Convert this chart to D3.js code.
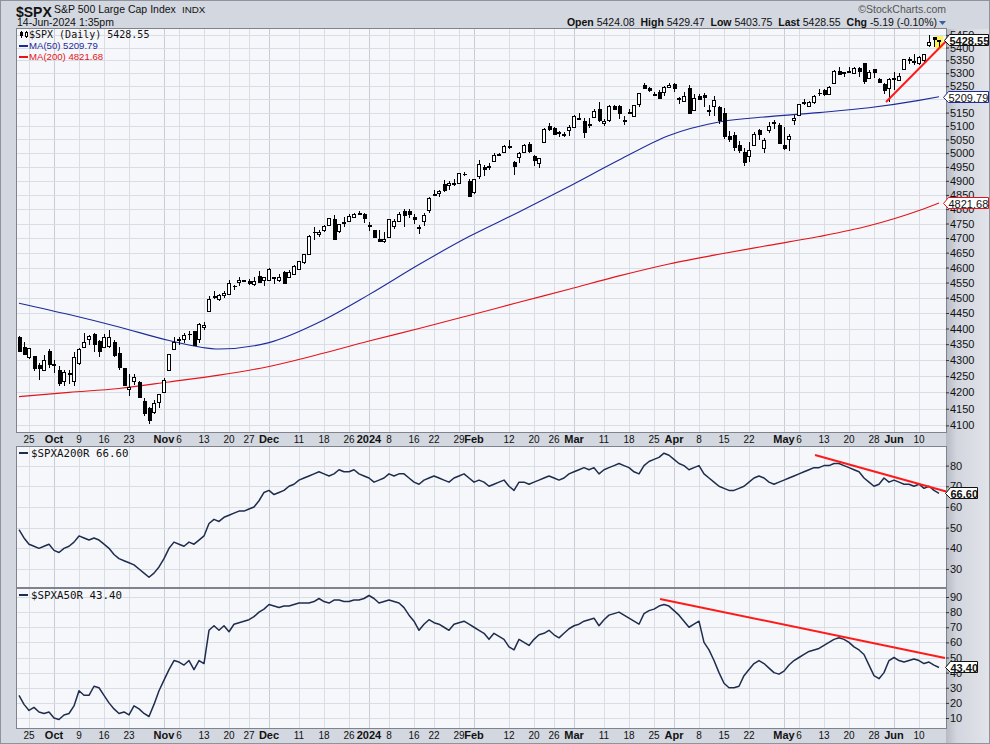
<!DOCTYPE html>
<html><head><meta charset="utf-8">
<script src="https://cdn.jsdelivr.net/npm/d3@7"></script>
<style>
body{margin:0;background:#d3d7df;}
svg{display:block;}
</style></head><body><svg id="c" width="990" height="744"></svg>
<script>
// ---------- DATA ----------
const tradingDays = [
 ["2023-09",[21,22,25,26,27,28,29]],
 ["2023-10",[2,3,4,5,6,9,10,11,12,13,16,17,18,19,20,23,24,25,26,27,30,31]],
 ["2023-11",[1,2,3,6,7,8,9,10,13,14,15,16,17,20,21,22,24,27,28,29,30]],
 ["2023-12",[1,4,5,6,7,8,11,12,13,14,15,18,19,20,21,22,26,27,28,29]],
 ["2024-01",[2,3,4,5,8,9,10,11,12,16,17,18,19,22,23,24,25,26,29,30,31]],
 ["2024-02",[1,2,5,6,7,8,9,12,13,14,15,16,20,21,22,23,26,27,28,29]],
 ["2024-03",[1,4,5,6,7,8,11,12,13,14,15,18,19,20,21,22,25,26,27,28]],
 ["2024-04",[1,2,3,4,5,8,9,10,11,12,15,16,17,18,19,22,23,24,25,26,29,30]],
 ["2024-05",[1,2,3,6,7,8,9,10,13,14,15,16,17,20,21,22,23,24,28,29,30,31]],
 ["2024-06",[3,4,5,6,7,10,11,12,13,14]]
];
const open = [4374,4342,4311,4313,4283,4270,4328,
4284,4270,4234,4260,4234,4290,4340,4367,4381,4360,4342,4345,4357,4322,4274,4210,4235,4233,4175,4152,4140,4172,
4201,4269,4334,4364,4366,4384,4391,4365,4406,4458,4505,4497,4509,4512,4539,4553,4555,4555,4546,4572,4558,
4560,4565,4557,4586,4568,4577,4594,4619,4646,4721,4714,4726,4744,4764,4724,4753,4758,4773,4787,4783,
4745,4726,4698,4690,4703,4742,4760,4792,4792,4772,4739,4760,4797,4853,4856,4888,4886,4888,4892,4926,4900,
4861,4916,4950,4951,4973,4996,5004,5026,4968,4987,5004,5032,4990,4964,5039,5101,5093,5074,5067,5085,
5098,5131,5120,5109,5132,5164,5112,5124,5174,5175,5123,5154,5139,5182,5254,5243,5219,5228,5226,5248,
5258,5204,5194,5244,5158,5211,5217,5157,5173,5172,5150,5064,5068,5031,5005,4988,5028,5084,5019,5085,5114,5103,
5029,5050,5122,5142,5188,5173,5190,5225,5234,5222,5264,5310,5303,5305,5299,5320,5340,5281,5315,5278,5260,5244,
5278,5275,5315,5357,5343,5341,5353,5410,5441,5424.08];
const high = [4375,4357,4338,4313,4292,4317,4334,
4300,4281,4268,4268,4324,4337,4386,4379,4385,4362,4383,4394,4364,4340,4276,4256,4255,4236,4184,4156,4178,4194,
4245,4320,4374,4372,4386,4392,4393,4418,4421,4505,4521,4511,4521,4557,4542,4569,4560,4561,4568,4587,4569,
4599,4570,4578,4590,4591,4610,4623,4644,4709,4738,4726,4746,4769,4779,4749,4773,4784,4785,4793,4788,
4755,4729,4726,4721,4764,4765,4790,4799,4802,4782,4744,4785,4842,4868,4866,4903,4899,4907,4929,4932,4907,
4906,4975,4958,4964,5000,5001,5030,5048,4971,5003,5033,5039,4993,4984,5094,5111,5097,5081,5077,5104,
5140,5149,5128,5128,5165,5190,5125,5180,5180,5180,5137,5165,5180,5225,5261,5246,5229,5236,5250,5264,
5263,5209,5228,5256,5222,5219,5224,5178,5211,5175,5168,5080,5077,5046,5019,5039,5076,5089,5057,5114,5124,5110,
5096,5069,5140,5181,5200,5192,5215,5240,5238,5251,5311,5325,5306,5325,5324,5325,5341,5312,5316,5283,5263,5281,
5303,5299,5354,5362,5376,5366,5376,5448,5442,5429.47];
const low = [4329,4317,4302,4265,4239,4265,4274,
4260,4220,4220,4226,4220,4284,4340,4346,4325,4311,4342,4339,4311,4269,4223,4190,4224,4184,4128,4103,4133,4153,
4197,4269,4334,4347,4355,4363,4343,4354,4394,4458,4496,4488,4500,4511,4526,4538,4553,4541,4540,4547,4537,
4554,4546,4552,4546,4566,4574,4593,4611,4643,4694,4702,4722,4744,4697,4717,4737,4758,4768,4780,4751,
4723,4700,4687,4683,4699,4730,4757,4739,4769,4747,4714,4740,4785,4845,4844,4862,4867,4882,4888,4917,4845,
4853,4907,4919,4939,4969,4988,4999,5016,4920,4964,4999,4999,4955,4946,5039,5081,5068,5058,5058,5061,
5094,5127,5057,5091,5128,5114,5099,5116,5160,5125,5105,5145,5139,5171,5240,5229,5216,5203,5214,5246,
5229,5184,5194,5146,5157,5197,5170,5138,5138,5107,5052,5040,5008,4999,4953,4969,5028,5048,5002,5073,5089,5035,
5013,5007,5102,5142,5178,5172,5183,5211,5211,5220,5264,5297,5284,5299,5297,5284,5257,5278,5280,5263,5222,5191,
5234,5270,5311,5336,5331,5331,5336,5402,5404,5403.75];
const close = [4330,4320,4337,4274,4275,4300,4288,
4288,4229,4264,4258,4309,4336,4358,4377,4350,4328,4374,4373,4315,4278,4224,4217,4248,4187,4137,4117,4167,4194,
4238,4318,4358,4366,4378,4383,4347,4415,4412,4496,4503,4508,4514,4547,4538,4557,4559,4550,4555,4551,4568,
4595,4570,4567,4549,4586,4604,4622,4644,4707,4720,4719,4741,4768,4698,4747,4755,4775,4782,4783,4770,
4743,4705,4689,4697,4764,4757,4783,4780,4784,4766,4739,4781,4840,4850,4865,4869,4894,4891,4928,4925,4846,
4906,4959,4943,4954,4995,4998,5027,5022,4953,5001,5030,5006,4976,4982,5087,5089,5070,5078,5070,5096,
5137,5131,5079,5105,5157,5124,5118,5175,5165,5150,5117,5149,5179,5225,5242,5234,5218,5204,5248,5254,
5244,5206,5211,5147,5204,5202,5210,5161,5199,5123,5062,5051,5022,5011,4967,5011,5071,5072,5048,5100,5116,5036,
5018,5064,5128,5181,5188,5188,5214,5223,5221,5247,5308,5297,5303,5308,5321,5307,5268,5305,5306,5267,5235,5278,
5283,5291,5354,5353,5347,5361,5375,5421,5434,5428.55];
// moving averages (sample positions = trading-day index)
const maIndex  = [0,10,20,30,40,50,60,70,80,90,100,110,120,130,140,150,160,170,180,184];
const ma50     = [4482,4445,4405,4362,4335,4355,4420,4510,4610,4705,4790,4880,4975,5065,5115,5135,5150,5168,5196,5209.79];
const ma200    = [4187,4200,4212,4232,4253,4280,4318,4360,4400,4442,4485,4528,4572,4612,4645,4675,4705,4742,4795,4821.68];
// % of S&P 500 stocks above 200-day / 50-day MA
const a200r = [49,45,42,41,40,41,42,39,38,40,41,43,46,45,44,45,44,42,40,37,35,34,33,32,30,28,26,28,31,35,40,43,42,41,43,42,44,46,52,54,53,55,56,57,58,58,59,60,63,67,68,66,67,68,70,71,73,74,75,76,77,76,75,76,78,77,77,78,76,75,74,72,73,74,76,75,76,76,74,72,71,73,74,75,74,73,72,74,75,76,74,72,73,72,70,71,72,73,70,68,72,72,71,72,73,74,75,74,73,74,76,77,78,79,78,79,76,78,79,80,81,80,79,77,76,80,82,83,84,86,85,83,81,80,78,79,80,76,74,72,70,69,68,68,69,70,72,74,75,74,72,71,72,73,74,75,76,77,78,79,79,80,80,81,81,80,79,78,77,74,72,70,71,74,72,73,72,71,71,70,71,69,70,68,66.6];
const a50r = [25,19,15,17,14,13,14,10,9,12,13,18,28,25,25,31,30,25,20,16,13,14,12,18,16,13,11,19,28,35,42,48,47,45,48,42,48,46,68,71,68,71,67,72,73,74,75,77,80,82,85,84,83,84,84,85,86,86,86,87,89,87,86,88,88,87,87,88,88,89,91,89,86,87,88,87,86,83,78,74,68,72,75,73,72,70,68,72,73,74,72,70,68,66,62,66,64,62,57,55,62,60,58,62,65,66,68,65,63,66,69,71,72,74,75,76,71,75,78,79,80,78,76,74,72,79,81,82,84,85,84,81,78,74,70,72,74,60,55,48,40,33,30,30,31,38,42,46,48,46,43,40,39,41,45,48,50,52,54,55,56,58,60,62,63,62,60,57,55,52,45,38,36,40,48,50,48,47,48,49,48,46,47,45,43.4];
// trend lines drawn on the chart: [trading-day index, value]
const trendMain = [[173.4,5190],[185.6,5428.55]];
const trendA200 = [[159.2,85.1],[185.8,67.2]];
const trendA50  = [[128.2,88.7],[185.2,49.7]];
// axis labels
const xLabelDates = ["2023-09-25","2023-10-02","2023-10-09","2023-10-16","2023-10-23","2023-11-01","2023-11-06","2023-11-13","2023-11-20","2023-11-27","2023-12-01","2023-12-11","2023-12-18","2023-12-26","2024-01-02","2024-01-08","2024-01-16","2024-01-22","2024-01-29","2024-02-01","2024-02-12","2024-02-20","2024-02-26","2024-03-01","2024-03-11","2024-03-18","2024-03-25","2024-04-01","2024-04-08","2024-04-15","2024-04-22","2024-05-01","2024-05-06","2024-05-13","2024-05-20","2024-05-28","2024-06-03","2024-06-10"];
const xLabelText  = ["25","Oct","9","16","23","Nov","6","13","20","27","Dec","11","18","26","2024","8","16","22","29","Feb","12","20","26","Mar","11","18","25","Apr","8","15","22","May","6","13","20","28","Jun","10"];
const priceTicks = d3.range(4100, 5451, 50);
const a200Ticks = [30,40,50,60,70,80];
const a50Ticks = [10,20,30,40,50,60,70,80,90];

// ---------- LAYOUT ----------
const dates = tradingDays.flatMap(([m, ds]) => ds.map(d => m + "-" + String(d).padStart(2, "0")));
const L = 17, R = 946;
const P = {main:[29,432], mid:[447,587], bot:[589,728]};
const svg = d3.select("#c");
const FONT = "'Liberation Sans', Arial, sans-serif";
const MONO = "'DejaVu Sans Mono', monospace";

const x = d3.scaleLinear().domain([0, dates.length - 1]).range([19, 939]);
const yP = d3.scaleLog().domain([4100, 5450]).range([425.4, 34.9]);
const yA = d3.scaleLinear().domain([30, 80]).range([569, 465.6]);
const yB = d3.scaleLinear().domain([10, 90]).range([718, 597]);

const defs = svg.append("defs");
const g1 = defs.append("linearGradient").attr("id","rstrip").attr("x1",0).attr("x2",1).attr("y1",0).attr("y2",0);
g1.append("stop").attr("offset","0%").attr("stop-color","#b6bac4");
g1.append("stop").attr("offset","25%").attr("stop-color","#d3d6de");
g1.append("stop").attr("offset","100%").attr("stop-color","#e2e4ea");
["main","mid","bot"].forEach(k => {
  defs.append("clipPath").attr("id","clip-"+k).append("rect")
    .attr("x",L).attr("y",P[k][0]).attr("width",R-L).attr("height",P[k][1]-P[k][0]);
});

// page background
svg.append("rect").attr("width",990).attr("height",744).attr("fill","#d3d7df");
svg.append("rect").attr("x",R).attr("y",29).attr("width",990-R).attr("height",744-29).attr("fill","url(#rstrip)");
svg.append("rect").attr("x",0.5).attr("y",0.5).attr("width",989).attr("height",743).attr("fill","none").attr("stroke","#8e939c");

// panel backgrounds
Object.values(P).forEach(([t,b]) => {
  svg.append("rect").attr("x",L).attr("y",t).attr("width",R-L).attr("height",b-t).attr("fill","#f6f7fa");
});

// gridlines
const labelIdx = xLabelDates.map(d => dates.indexOf(d));
const monthSet = new Set(xLabelText.map((t,i)=> isNaN(+t) || t==="2024" ? i : -1));
Object.entries(P).forEach(([k,[t,b]]) => {
  const g = svg.append("g").attr("clip-path","url(#clip-"+k+")");
  g.selectAll("line.v").data(labelIdx).join("line")
    .attr("x1", d => Math.round(x(d))+0.5).attr("x2", d => Math.round(x(d))+0.5)
    .attr("y1", t).attr("y2", b)
    .attr("stroke", (d,i) => monthSet.has(i) ? "#c9ccd4" : "#dadde4").attr("stroke-width",1);
  const ticks = k==="main" ? priceTicks : k==="mid" ? a200Ticks : a50Ticks;
  const ys = k==="main" ? yP : k==="mid" ? yA : yB;
  g.selectAll("line.h").data(ticks).join("line")
    .attr("x1", L).attr("x2", R)
    .attr("y1", d => Math.round(ys(d))+0.5).attr("y2", d => Math.round(ys(d))+0.5)
    .attr("stroke","#dadde4");
});

// ---------- MAIN PANEL ----------
const gm = svg.append("g").attr("clip-path","url(#clip-main)");
const maLine = d3.line().x((d,i)=>x(maIndex[i])).y(d=>yP(d)).curve(d3.curveMonotoneX);
gm.append("path").attr("d", maLine(ma200)).attr("fill","none").attr("stroke","#e4141b").attr("stroke-width",1.1);
gm.append("path").attr("d", maLine(ma50)).attr("fill","none").attr("stroke","#1d2a9a").attr("stroke-width",1.1);

// highlight last bar
const last = dates.length - 1;
gm.append("rect").attr("x", Math.round(x(last))-4).attr("y", yP(high[last])-4)
  .attr("width",8).attr("height", yP(low[last]) - yP(high[last]) + 6).attr("fill","#fff35a");

const candles = gm.append("g").attr("shape-rendering","crispEdges");
dates.forEach((d,i) => {
  const cx = Math.round(x(i));
  candles.append("line").attr("x1",cx+0.5).attr("x2",cx+0.5)
    .attr("y1", yP(high[i])).attr("y2", yP(low[i])).attr("stroke","#000").attr("stroke-width",1);
  const top = yP(Math.max(open[i], close[i])), bot = yP(Math.min(open[i], close[i]));
  const up = close[i] >= open[i];
  if (up) {
    candles.append("rect").attr("x", cx-1.5).attr("y", Math.round(top)+0.5)
      .attr("width",3).attr("height", Math.max(1, Math.round(bot)-Math.round(top)))
      .attr("fill","#fff").attr("stroke","#000").attr("stroke-width",1);
  } else {
    candles.append("rect").attr("x", cx-1).attr("y", Math.round(top))
      .attr("width",4).attr("height", Math.max(1, Math.round(bot)-Math.round(top)+1))
      .attr("fill","#000");
  }
});

const trendLine = (ys) => d3.line().x(d=>x(d[0])).y(d=>ys(d[1]));
svg.append("path").attr("d", trendLine(yP)(trendMain)).attr("stroke","#ff1a1a").attr("stroke-width",2).attr("fill","none");

// ---------- INDICATOR PANELS ----------
const gmid = svg.append("g").attr("clip-path","url(#clip-mid)");
gmid.append("path").attr("d", d3.line().x((d,i)=>x(i)).y(d=>yA(d))(a200r))
  .attr("fill","none").attr("stroke","#1e2d4e").attr("stroke-width",1.5).attr("stroke-linejoin","round");
svg.append("path").attr("d", trendLine(yA)(trendA200)).attr("stroke","#ff1a1a").attr("stroke-width",2).attr("fill","none");

const gbot = svg.append("g").attr("clip-path","url(#clip-bot)");
gbot.append("path").attr("d", d3.line().x((d,i)=>x(i)).y(d=>yB(d))(a50r))
  .attr("fill","none").attr("stroke","#1e2d4e").attr("stroke-width",1.5).attr("stroke-linejoin","round");
svg.append("path").attr("d", trendLine(yB)(trendA50)).attr("stroke","#ff1a1a").attr("stroke-width",2).attr("fill","none");

// panel borders
Object.values(P).forEach(([t,b]) => {
  svg.append("rect").attr("x",L-0.5).attr("y",t-0.5).attr("width",R-L+1).attr("height",b-t+1)
    .attr("fill","none").attr("stroke","#7e838d").attr("stroke-width",1);
});

// ---------- AXES ----------
function rightAxis(scale, ticks, fmt) {
  const g = svg.append("g").attr("transform",`translate(${R},0)`)
    .call(d3.axisRight(scale).tickValues(ticks).tickSize(3).tickPadding(1).tickFormat(fmt));
  g.select(".domain").remove();
  g.selectAll("line").attr("stroke","#333");
  g.selectAll("text").attr("font-family",FONT).attr("font-size","11px").attr("fill","#111");
}
rightAxis(yP, priceTicks, d3.format("d"));
rightAxis(yA, a200Ticks, d3.format("d"));
rightAxis(yB, a50Ticks, d3.format("d"));

function xLabels(yBase) {
  const g = svg.append("g");
  g.selectAll("text").data(xLabelText).join("text")
    .attr("x",(d,i)=>x(labelIdx[i])).attr("y",yBase)
    .attr("text-anchor","middle")
    .attr("font-family",FONT)
    .attr("font-size",(d,i)=>monthSet.has(i)?"11px":"10px")
    .attr("font-weight",(d,i)=>monthSet.has(i)?"bold":"normal")
    .attr("fill","#111").text(d=>d);
}
xLabels(443);
xLabels(739);

// ---------- HEADER ----------
svg.append("text").attr("x",16).attr("y",17).attr("font-family",FONT).attr("font-weight","bold").attr("font-size","14px").attr("fill","#111").text("$SPX");
svg.append("text").attr("x",54).attr("y",13).attr("font-family",FONT).attr("font-size","10.5px").attr("fill","#111").text("S&P 500 Large Cap Index");
svg.append("text").attr("x",182).attr("y",13).attr("font-family",FONT).attr("font-size","9.8px").attr("fill","#111").text("INDX");
svg.append("text").attr("x",17).attr("y",26).attr("font-family",FONT).attr("font-size","10.5px").attr("fill","#111").text("14-Jun-2024 1:35pm");
svg.append("text").attr("x",946).attr("y",13).attr("text-anchor","end").attr("font-family",FONT).attr("font-size","10.5px").attr("fill","#555").text("©StockCharts.com");
const hdr = svg.append("text").attr("x",937).attr("y",26).attr("text-anchor","end").attr("font-family",FONT).attr("font-size","10.5px").attr("fill","#111");
[["Open ",true],["5424.08  ",false],["High ",true],["5429.47  ",false],["Low ",true],["5403.75  ",false],["Last ",true],["5428.55  ",false],["Chg ",true],["-5.19 (-0.10%)",false]]
  .forEach(([t,b]) => hdr.append("tspan").attr("font-weight", b?"bold":"normal").attr("xml:space","preserve").text(t));
hdr.attr("style","white-space:pre");
svg.append("path").attr("d","M939,21L946,21L942.5,25Z").attr("fill","#3a5ea8");

// ---------- LEGENDS ----------
const ic = svg.append("g").attr("shape-rendering","crispEdges");
ic.append("line").attr("x1",21.5).attr("x2",21.5).attr("y1",31).attr("y2",38).attr("stroke","#000");
ic.append("rect").attr("x",20).attr("y",32).attr("width",3).attr("height",4).attr("fill","#000");
ic.append("line").attr("x1",26.5).attr("x2",26.5).attr("y1",31).attr("y2",38).attr("stroke","#000");
ic.append("rect").attr("x",25.5).attr("y",32.5).attr("width",2).attr("height",4).attr("fill","#fff").attr("stroke","#000");
svg.append("text").attr("x",29).attr("y",38).attr("font-family",MONO).attr("font-size","10px").attr("fill","#111").text("$SPX (Daily) 5428.55");
svg.append("line").attr("x1",19).attr("x2",28).attr("y1",46).attr("y2",46).attr("stroke","#1d2a9a").attr("stroke-width",2);
svg.append("text").attr("x",29).attr("y",49).attr("font-family",FONT).attr("font-size","9.6px").attr("fill","#1d2a9a").text("MA(50) 5209.79");
svg.append("line").attr("x1",19).attr("x2",28).attr("y1",57).attr("y2",57).attr("stroke","#e4141b").attr("stroke-width",2);
svg.append("text").attr("x",29).attr("y",60).attr("font-family",FONT).attr("font-size","9.6px").attr("fill","#e4141b").text("MA(200) 4821.68");

svg.append("line").attr("x1",19).attr("x2",28).attr("y1",453).attr("y2",453).attr("stroke","#1e2d4e").attr("stroke-width",2);
svg.append("text").attr("x",31).attr("y",457).attr("font-family",MONO).attr("font-size","10.8px").attr("fill","#111").text("$SPXA200R 66.60");
svg.append("line").attr("x1",19).attr("x2",28).attr("y1",595).attr("y2",595).attr("stroke","#1e2d4e").attr("stroke-width",2);
svg.append("text").attr("x",31).attr("y",599).attr("font-family",MONO).attr("font-size","10.8px").attr("fill","#111").text("$SPXA50R 43.40");

// ---------- VALUE BOXES ----------
function valBox(yc, txt, color, bold, x0, x1) {
  const t = Math.round(yc) - 5.5, b = Math.round(yc) + 5.5, m = Math.round(yc)+0.5;
  svg.append("path").attr("d",`M${x0},${m}L${x0+5},${t}L${x1},${t}L${x1},${b}L${x0+5},${b}Z`)
    .attr("fill","#fff").attr("stroke",color).attr("stroke-width",1);
  svg.append("text").attr("x",x0+5).attr("y",m+4).attr("font-family",FONT).attr("font-size","11px")
    .attr("font-weight",bold?"bold":"normal").attr("fill","#111").text(txt);
}
valBox(yP(close[last]), "5428.55", "#111", true, 944.5, 988.5);
valBox(yP(ma50[ma50.length-1]), "5209.79", "#1d2a9a", false, 943.5, 988.5);
valBox(yP(ma200[ma200.length-1]), "4821.68", "#e4141b", false, 943.5, 988.5);
valBox(yA(a200r[a200r.length-1]), "66.60", "#111", true, 945.5, 977.5);
valBox(yB(a50r[a50r.length-1]), "43.40", "#111", true, 945.5, 977.5);
</script></body></html>
